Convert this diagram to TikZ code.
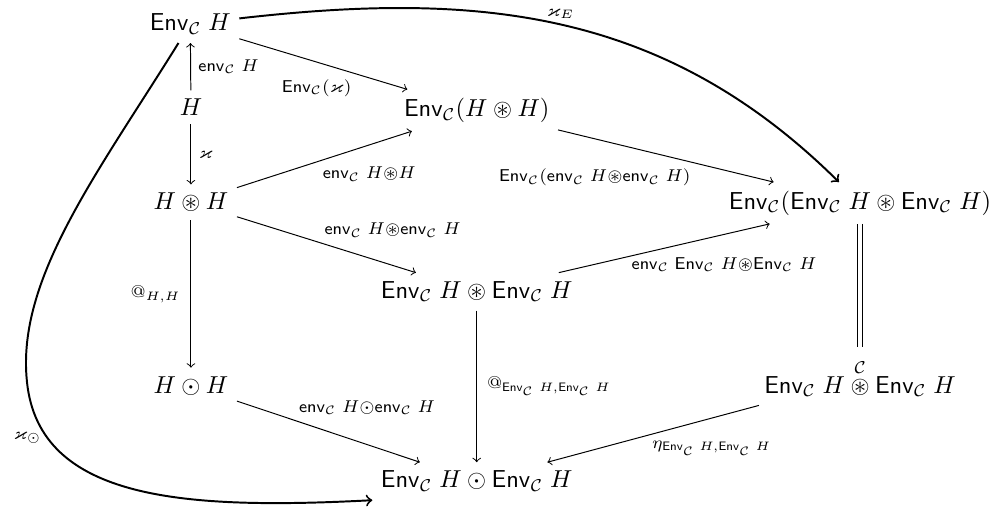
\documentclass[tikz,border=0pt]{standalone}
\usepackage{amsmath,amssymb}
\newcommand{\EnvC}{\mathsf{Env}_{\mathcal{C}}}
\newcommand{\envC}{\mathsf{env}_{\mathcal{C}}}
\tikzset{obj/.style={anchor=base},
  lbl/.style={inner sep=2pt}}
\begin{document}
\begin{tikzpicture}
\useasboundingbox (0,0) rectangle (14.42,-7.35);
% \draw[help lines] (0,0) grid (14,-7);
\node (EnvH) [obj] at (2.73,-0.44) {$\EnvC\;H$};
\node (H) [obj] at (2.74,-1.66) {$H$};
\node (HH) [obj] at (2.74,-3.01) {$H\circledast H$};
\node (HdH) [obj] at (2.74,-5.64) {$H\odot H$};
\node (EnvHH) [obj] at (6.84,-1.67) {$\EnvC(H\circledast H)$};
\node (EE) [obj] at (6.84,-4.28) {$\EnvC\;H\circledast\EnvC\;H$};
\node (EdE) [obj] at (6.84,-7.00) {$\EnvC\;H\odot\EnvC\;H$};
\node (EnvEE) [obj] at (12.34,-3.00) {$\EnvC(\EnvC\;H\circledast\EnvC\;H)$};
\node (EoE) [obj] at (12.34,-5.64) {$\EnvC\;H\overset{\mathcal{C}}{\circledast}\EnvC\;H$};
\coordinate (kturn) at (0.38,-5.40);
%
\path[->](H) edge node[lbl,right=1pt] {$\scriptstyle\envC\;H$} (EnvH);
\path[->](EnvH) edge node[lbl,pos=0.7,below left] {$\scriptstyle\EnvC(\varkappa)$} (EnvHH);
\path[->](H) edge node[lbl,right=1pt] {$\scriptstyle\varkappa$} (HH);
\path[->](HH) edge node[lbl,pos=0.46,below right] {$\scriptstyle\envC\;H\circledast H$} (EnvHH);
\path[->](HH) edge node[lbl,pos=0.46,above right] {$\scriptstyle\envC\;H\circledast\envC\;H$} (EE);
\path[->](EnvHH) edge node[lbl,pos=0.64,below left] {$\scriptstyle\EnvC(\envC\;H\circledast\envC\;H)$} (EnvEE);
\path[->](EE) edge node[lbl,pos=0.32,below right,yshift=2pt] {$\scriptstyle\envC\;\EnvC\;H\circledast\EnvC\;H$} (EnvEE);
\path[->](HH) edge node[lbl,left=2pt] {$\scriptstyle @_{H,H}$} (HdH);
\path[->](EE) edge node[lbl,right=2pt] {$\scriptstyle @_{\EnvC\;H,\EnvC\;H}$} (EdE);
\path[->](HdH) edge node[lbl,pos=0.31,above right] {$\scriptstyle\envC\;H\odot\envC\;H$} (EdE);
\path[->](EoE) edge node[lbl,pos=0.53,below right] {$\scriptstyle\eta_{\EnvC\;H,\EnvC\;H}$} (EdE);
\draw[double,double distance=1.4pt,shorten >=1.5pt] (EnvEE) -- (EoE);
%
\draw[->,thick] (EnvH) .. controls (6.79,0.12) and (9.50,-0.10) .. (EnvEE)
  node[lbl,pos=0.5,above] {$\scriptstyle\varkappa_E$};
\draw[->,thick] (EnvH) .. controls (1.43,-2.44) and (0.27,-3.95) .. (kturn)
  .. controls (0.50,-7.17) and (2.58,-7.32) .. (EdE.south west)
  node[lbl,pos=0.2,left] {$\scriptstyle\varkappa_\odot$};
\end{tikzpicture}
\end{document}
